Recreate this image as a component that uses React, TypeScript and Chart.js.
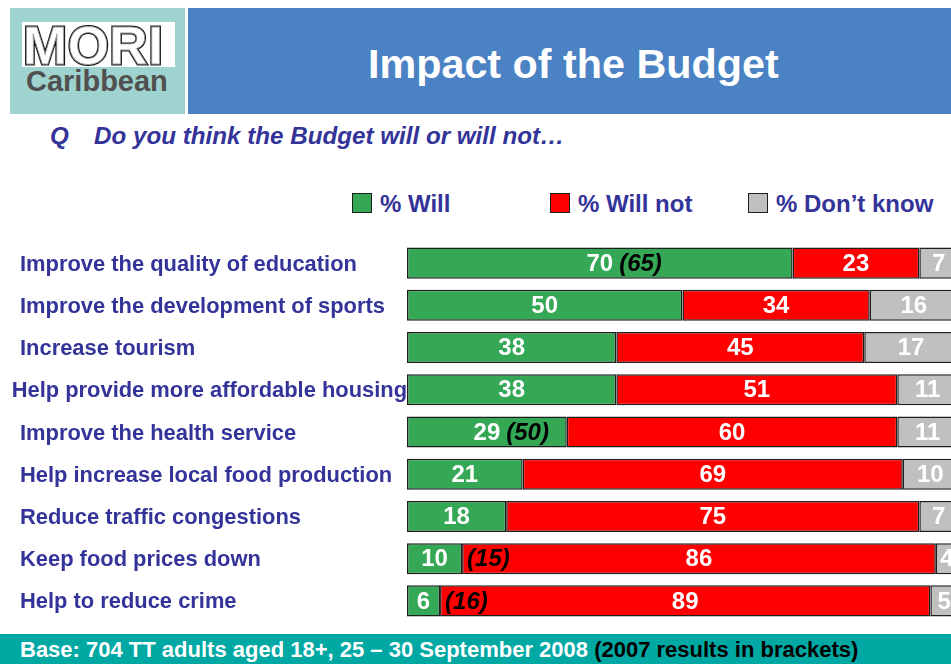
import React, { useEffect, useRef } from "react";
import { Chart, registerables } from "chart.js";

Chart.register(...registerables);

const categories = [
  "Improve the quality of education",
  "Improve the development of sports",
  "Increase tourism",
  "Help provide more affordable housing",
  "Improve the health service",
  "Help increase local food production",
  "Reduce traffic congestions",
  "Keep food prices down",
  "Help to reduce crime",
];
const willValues = [70, 50, 38, 38, 29, 21, 18, 10, 6];
const willNotValues = [23, 34, 45, 51, 60, 69, 75, 86, 89];
const dontKnowValues = [7, 16, 17, 11, 11, 10, 7, 4, 5];
const will2007 = [65, null, null, null, 50, null, null, 15, 16];
const seriesNames = ["% Will", "% Will not", "% Don\u2019t know"];
const seriesColors = ["#35A855", "#FF0000", "#C0C0C0"];

const FONT = '"Liberation Sans", Arial, Helvetica, sans-serif';
const NAVY = "#333399";

export default function App() {
  const ref = useRef<HTMLCanvasElement | null>(null);

  useEffect(() => {
    if (!ref.current) return;
    const labelPlugin = {
      id: "barLabels",
      afterDatasetsDraw(chart: any) {
        const ctx = chart.ctx as CanvasRenderingContext2D;
        const yScale = chart.scales.y;
        ctx.save();
        // category labels
        ctx.fillStyle = NAVY;
        ctx.font = `bold 21.9px ${FONT}`;
        ctx.textBaseline = "middle";
        ctx.textAlign = "left";
        categories.forEach((c, i) => {
          const py = yScale.getPixelForValue(i);
          const w = ctx.measureText(c).width;
          const lx = Math.min(20, chart.chartArea.left - w);
          ctx.fillText(c, lx, py + 1.5);
        });
        // values
        chart.data.datasets.forEach((ds: any, di: number) => {
          const meta = chart.getDatasetMeta(di);
          meta.data.forEach((bar: any, i: number) => {
            const v = ds.data[i];
            const p = bar.getProps(["x", "y", "base"], true);
            const cx = (p.x + p.base) / 2;
            ctx.font = `bold 24px ${FONT}`;
            ctx.textAlign = "center";
            ctx.fillStyle = "#FFFFFF";
            const txt = String(v);
            ctx.fillText(txt, cx, p.y + 1);
            const prev = di === 0 ? will2007[i] : null;
            if (prev != null) {
              const numRight = cx + ctx.measureText(txt).width / 2;
              ctx.font = `italic bold 24px ${FONT}`;
              const b = `(${prev})`;
              const bw = ctx.measureText(b).width;
              let bx = numRight + 6;
              if (bx + bw > p.x - 3) bx = p.x + 5;
              ctx.textAlign = "left";
              ctx.fillStyle = "#000000";
              ctx.fillText(b, bx, p.y + 1);
            }
          });
        });
        ctx.restore();
      },
    };

    const makeDs = (label: string, data: number[], color: string) => ({
      label,
      data,
      backgroundColor: color,
      borderColor: "#1E1E1E",
      borderWidth: 1.5,
      borderSkipped: false,
      barPercentage: 0.735,
      categoryPercentage: 1,
    });

    const chart = new Chart(ref.current, {
      type: "bar",
      data: {
        labels: categories,
        datasets: [
          makeDs(seriesNames[0], willValues, seriesColors[0]),
          makeDs(seriesNames[1], willNotValues, seriesColors[1]),
          makeDs(seriesNames[2], dontKnowValues, seriesColors[2]),
        ],
      },
      options: {
        indexAxis: "y",
        responsive: false,
        animation: false,
        layout: { padding: { left: 407, right: 0, top: 0, bottom: 0 } },
        scales: {
          x: { stacked: true, min: 0, max: 98.75, display: false },
          y: { stacked: true, display: false },
        },
        plugins: {
          legend: { display: false },
          tooltip: { enabled: false },
        },
      },
      plugins: [labelPlugin],
    } as any);
    return () => chart.destroy();
  }, []);

  const abs = (s: React.CSSProperties): React.CSSProperties => ({ position: "absolute", ...s });
  const text = (f: number, baseline: number, left: number, extra: React.CSSProperties = {}): React.CSSProperties =>
    abs({
      left,
      top: baseline - 0.8465 * f,
      fontSize: f,
      lineHeight: `${f}px`,
      fontFamily: FONT,
      fontWeight: "bold",
      whiteSpace: "nowrap",
      ...extra,
    });

  return (
    <div
      style={{
        position: "absolute",
        left: 0,
        top: 0,
        width: 951,
        height: 664,
        overflow: "hidden",
        background: "#FFFFFF",
        fontFamily: FONT,
      }}
    >
      {/* Logo */}
      <div style={abs({ left: 10, top: 8, width: 175, height: 106, background: "#9ED3CF" })} />
      <div style={abs({ left: 22, top: 22, width: 153, height: 45, background: "#FFFFFF" })} />
      <div
        style={text(53, 63.5, 23, {
          color: "#FFFFFF",
          WebkitTextStroke: "3px #1A1A1A",
          fontWeight: "bold",
          letterSpacing: 0.5,
        } as any)}
      >
        MORI
      </div>
      <div
        style={text(53, 63.5, 23, {
          color: "#FFFFFF",
          WebkitTextStroke: "0.8px #9A9A9A",
          fontWeight: "bold",
          letterSpacing: 0.5,
        } as any)}
      >
        MORI
      </div>
      <div style={text(29, 91.5, 26, { color: "#505050" })}>Caribbean</div>

      {/* Title banner */}
      <div style={abs({ left: 188, top: 8, width: 763, height: 106, background: "#4A82C4" })} />
      <div style={text(41.3, 79.3, 368, { color: "#FFFFFF" })}>Impact of the Budget</div>

      {/* Question */}
      <div style={text(24.2, 144.5, 50, { color: NAVY, fontStyle: "italic" })}>Q</div>
      <div style={text(24.2, 144.5, 94, { color: NAVY, fontStyle: "italic" })}>
        Do you think the Budget will or will not…
      </div>

      {/* Legend */}
      {seriesNames.map((n, i) => (
        <React.Fragment key={n}>
          <div
            style={abs({
              left: 352 + i * 198,
              top: 193,
              width: 18,
              height: 18,
              background: seriesColors[i],
              border: "1px solid #1E1E1E",
            })}
          />
          <div style={text(24, 212, 380 + i * 198, { color: NAVY })}>{n}</div>
        </React.Fragment>
      ))}

      {/* Chart */}
      <canvas
        ref={ref}
        width={951}
        height={380}
        style={abs({ left: 0, top: 242, width: 951, height: 380 })}
      />

      {/* Footer */}
      <div style={abs({ left: 0, top: 634, width: 951, height: 30, background: "#00A8A4" })} />
      <div style={text(22, 657.5, 20, { color: "#FFFFFF" })}>
        Base: 704 TT adults aged 18+, 25 – 30 September 2008{" "}
        <span style={{ color: "#000000" }}>(2007 results in brackets)</span>
      </div>
    </div>
  );
}
